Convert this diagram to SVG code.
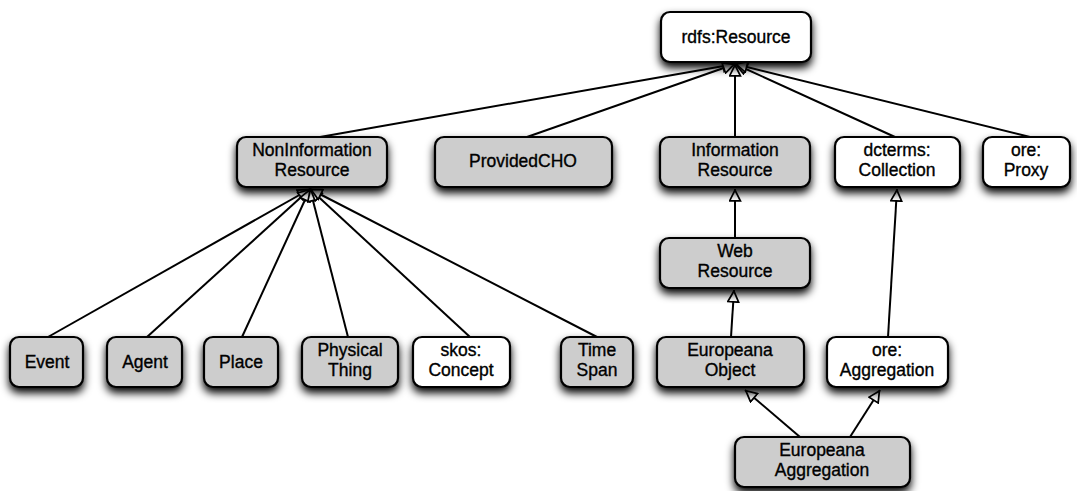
<svg xmlns="http://www.w3.org/2000/svg" width="1077" height="491" viewBox="0 0 1077 491">
<style>
.box{stroke:#000;stroke-width:2.2;filter:url(#sh)}
.g{fill:#cdcdcd}
.w{fill:#fff}
.t{font-family:"Liberation Sans",Arial,sans-serif;font-size:17.5px;fill:#000;stroke:#000;stroke-width:0.35;text-anchor:middle}
.c{fill:none;stroke:#000;stroke-width:2;marker-end:url(#tri)}
</style>
<defs>
<filter id="sh" x="-20%" y="-30%" width="140%" height="180%">
<feGaussianBlur in="SourceAlpha" stdDeviation="4"/>
<feOffset dx="0" dy="5" result="b"/>
<feComponentTransfer><feFuncA type="linear" slope="1"/></feComponentTransfer>
<feMerge><feMergeNode/><feMergeNode in="SourceGraphic"/></feMerge>
</filter>
<marker id="tri" viewBox="0 0 12 12" refX="12" refY="6" markerWidth="13" markerHeight="13" markerUnits="userSpaceOnUse" orient="auto">
<path d="M1,1 L11,6 L1,11 Z" fill="#fff" stroke="#000" stroke-width="1.6"/>
</marker>
</defs>
<rect width="1077" height="491" fill="#fff"/>
<g id="connectors">
<path class="c" d="M320,137 L735,64"/>
<path class="c" d="M527,137 L735,64"/>
<path class="c" d="M735,137 L735,64"/>
<path class="c" d="M895,137 L735,64"/>
<path class="c" d="M1030,137 L735,64"/>
<path class="c" d="M48,337 L310,189"/>
<path class="c" d="M147,337 L310,189"/>
<path class="c" d="M242,337 L310,189"/>
<path class="c" d="M348,337 L310,189"/>
<path class="c" d="M470,337 L310,189"/>
<path class="c" d="M597,337 L310,189"/>
<path class="c" d="M735,238 L735,189"/>
<path class="c" d="M731,337 L734,290"/>
<path class="c" d="M888,337 L897,189"/>
<path class="c" d="M800,437 L745,390"/>
<path class="c" d="M850,437 L880,390"/>
</g>
<g id="rdfsResource"><rect class="box w" x="661" y="12" width="150" height="50" rx="9"/><text class="t" x="736" y="43">rdfs:Resource</text></g>
<g id="NonInformationResource"><rect class="box g" x="237" y="137" width="150" height="50" rx="9"/><text class="t" x="312" y="156">NonInformation</text><text class="t" x="312" y="176">Resource</text></g>
<g id="ProvidedCHO"><rect class="box g" x="435" y="137" width="177" height="50" rx="9"/><text class="t" x="523" y="167">ProvidedCHO</text></g>
<g id="InformationResource"><rect class="box g" x="660" y="137" width="150" height="50" rx="9"/><text class="t" x="735" y="156">Information</text><text class="t" x="735" y="176">Resource</text></g>
<g id="dctermsCollection"><rect class="box w" x="835" y="137" width="125" height="50" rx="9"/><text class="t" x="897" y="156">dcterms:</text><text class="t" x="897" y="176">Collection</text></g>
<g id="oreProxy"><rect class="box w" x="983" y="137" width="87" height="50" rx="9"/><text class="t" x="1026" y="156">ore:</text><text class="t" x="1026" y="176">Proxy</text></g>
<g id="WebResource"><rect class="box g" x="660" y="238" width="150" height="50" rx="9"/><text class="t" x="735" y="257">Web</text><text class="t" x="735" y="277">Resource</text></g>
<g id="Event"><rect class="box g" x="10" y="337" width="73" height="50" rx="9"/><text class="t" x="47" y="368">Event</text></g>
<g id="Agent"><rect class="box g" x="107" y="337" width="75" height="50" rx="9"/><text class="t" x="145" y="368">Agent</text></g>
<g id="Place"><rect class="box g" x="204" y="337" width="74" height="50" rx="9"/><text class="t" x="241" y="368">Place</text></g>
<g id="PhysicalThing"><rect class="box g" x="302" y="337" width="96" height="50" rx="9"/><text class="t" x="350" y="356">Physical</text><text class="t" x="350" y="376">Thing</text></g>
<g id="skosConcept"><rect class="box w" x="413" y="337" width="97" height="50" rx="9"/><text class="t" x="461" y="356">skos:</text><text class="t" x="461" y="376">Concept</text></g>
<g id="TimeSpan"><rect class="box g" x="561" y="337" width="72" height="50" rx="9"/><text class="t" x="597" y="356">Time</text><text class="t" x="597" y="376">Span</text></g>
<g id="EuropeanaObject"><rect class="box g" x="657" y="337" width="147" height="50" rx="9"/><text class="t" x="730" y="356">Europeana</text><text class="t" x="730" y="376">Object</text></g>
<g id="oreAggregation"><rect class="box w" x="827" y="337" width="121" height="50" rx="9"/><text class="t" x="887" y="356">ore:</text><text class="t" x="887" y="376">Aggregation</text></g>
<g id="EuropeanaAggregation"><rect class="box g" x="735" y="437" width="175" height="50" rx="9"/><text class="t" x="822" y="456">Europeana</text><text class="t" x="822" y="476">Aggregation</text></g>
</svg>
